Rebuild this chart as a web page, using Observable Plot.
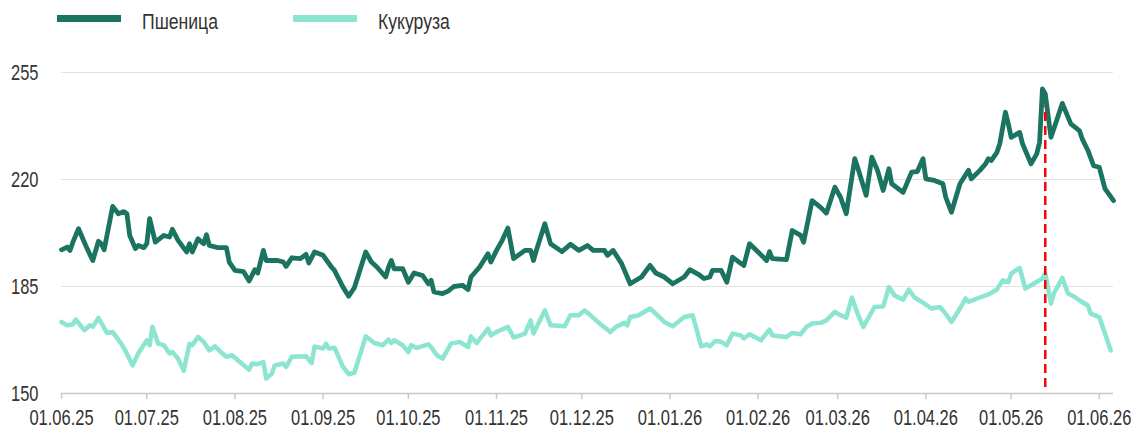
<!DOCTYPE html>
<html>
<head>
<meta charset="utf-8">
<script src="https://cdn.jsdelivr.net/npm/d3@7"></script>
<script src="https://cdn.jsdelivr.net/npm/@observablehq/plot@0.6"></script>
<style>
  html, body { margin: 0; padding: 0; background: #fff; }
  body { width: 1135px; height: 429px; overflow: hidden; font-family: "Liberation Sans", Arial, sans-serif; }
  #legend { position: relative; height: 40px; width: 1135px; }
  .sw { position: absolute; height: 7px; width: 64px; top: 15px; }
  .lt { position: absolute; top: 8px; font-size: 22px; color: #333; line-height: 28px; transform: scaleX(0.8); transform-origin: 0 0; white-space: nowrap; }
  #chart svg { display: block; }
</style>
</head>
<body>
<div id="legend"></div>
<div id="chart"></div>
<script>
const seriesNames = ["Пшеница", "Кукуруза"];
const seriesColors = ["#1b7461", "#8ce5d1"];

const wheatDates = ["2025-06-01","2025-06-03","2025-06-04","2025-06-05","2025-06-07","2025-06-08","2025-06-10","2025-06-12","2025-06-14","2025-06-15","2025-06-16","2025-06-19","2025-06-21","2025-06-23","2025-06-24","2025-06-25","2025-06-27","2025-06-28","2025-06-30","2025-07-01","2025-07-02","2025-07-04","2025-07-07","2025-07-09","2025-07-10","2025-07-12","2025-07-15","2025-07-16","2025-07-17","2025-07-19","2025-07-21","2025-07-22","2025-07-23","2025-07-26","2025-07-29","2025-07-30","2025-08-01","2025-08-04","2025-08-06","2025-08-08","2025-08-09","2025-08-11","2025-08-12","2025-08-14","2025-08-16","2025-08-18","2025-08-19","2025-08-21","2025-08-24","2025-08-26","2025-08-27","2025-08-29","2025-09-01","2025-09-04","2025-09-05","2025-09-08","2025-09-10","2025-09-12","2025-09-16","2025-09-18","2025-09-20","2025-09-23","2025-09-24","2025-09-25","2025-09-26","2025-09-29","2025-10-01","2025-10-03","2025-10-06","2025-10-08","2025-10-09","2025-10-10","2025-10-13","2025-10-15","2025-10-17","2025-10-20","2025-10-22","2025-10-23","2025-10-26","2025-10-29","2025-10-30","2025-11-01","2025-11-03","2025-11-05","2025-11-07","2025-11-11","2025-11-13","2025-11-14","2025-11-15","2025-11-18","2025-11-20","2025-11-24","2025-11-27","2025-11-30","2025-12-03","2025-12-05","2025-12-09","2025-12-10","2025-12-12","2025-12-15","2025-12-18","2025-12-22","2025-12-25","2025-12-27","2025-12-30","2026-01-02","2026-01-06","2026-01-08","2026-01-11","2026-01-13","2026-01-15","2026-01-16","2026-01-19","2026-01-21","2026-01-23","2026-01-26","2026-01-27","2026-01-29","2026-02-01","2026-02-04","2026-02-05","2026-02-06","2026-02-11","2026-02-13","2026-02-16","2026-02-17","2026-02-20","2026-02-23","2026-02-25","2026-02-28","2026-03-02","2026-03-04","2026-03-07","2026-03-08","2026-03-11","2026-03-13","2026-03-15","2026-03-17","2026-03-19","2026-03-20","2026-03-24","2026-03-27","2026-03-29","2026-03-31","2026-04-01","2026-04-04","2026-04-07","2026-04-08","2026-04-10","2026-04-13","2026-04-16","2026-04-17","2026-04-20","2026-04-22","2026-04-23","2026-04-24","2026-04-26","2026-04-27","2026-04-29","2026-04-30","2026-05-01","2026-05-04","2026-05-05","2026-05-08","2026-05-10","2026-05-11","2026-05-12","2026-05-13","2026-05-15","2026-05-17","2026-05-19","2026-05-22","2026-05-25","2026-05-26","2026-05-28","2026-05-30","2026-06-01","2026-06-03","2026-06-06"];
const wheatValues = [197.0,197.9,196.8,199.5,203.9,201.7,197.4,193.5,199.8,199.0,197.0,211.2,208.8,209.5,208.8,201.7,197.4,198.4,197.7,199.0,207.2,199.5,201.7,201.2,203.7,200.1,196.3,199.0,196.3,200.6,199.0,201.9,198.4,197.7,197.7,193.0,190.3,189.9,186.8,190.5,189.4,196.8,193.5,193.5,193.5,193.0,191.6,194.4,194.1,195.5,192.7,196.3,195.2,191.3,190.3,184.8,181.8,184.6,196.3,193.0,191.3,188.1,191.3,193.5,190.8,190.8,186.4,189.4,188.6,185.9,187.0,183.2,182.7,183.5,185.0,185.4,184.0,188.1,191.3,195.7,193.0,196.8,200.1,204.1,194.1,196.8,196.8,193.5,196.8,205.5,199.0,196.4,198.8,196.8,198.4,196.8,196.8,195.2,196.8,192.5,185.9,188.1,191.9,189.4,188.1,185.9,188.1,190.5,189.0,187.6,188.1,190.3,190.3,186.4,194.6,192.5,191.9,199.0,196.3,193.5,196.4,194.1,193.8,203.3,201.7,199.5,213.1,210.9,209.0,217.5,214.2,208.8,226.8,224.0,214.8,227.3,223.0,216.4,223.5,218.6,215.8,222.4,222.6,226.8,220.2,219.7,218.6,214.2,209.3,218.6,223.0,220.2,223.0,225.1,226.8,226.2,228.9,231.7,242.0,238.2,233.8,235.4,231.7,225.1,228.4,232.2,249.6,248.0,233.8,239.3,244.9,238.2,236.0,233.3,229.5,224.5,224.0,217.0,213.1];

const cornDates = ["2025-06-01","2025-06-03","2025-06-05","2025-06-06","2025-06-09","2025-06-11","2025-06-12","2025-06-14","2025-06-17","2025-06-19","2025-06-22","2025-06-24","2025-06-26","2025-06-28","2025-07-01","2025-07-02","2025-07-03","2025-07-05","2025-07-07","2025-07-09","2025-07-10","2025-07-12","2025-07-14","2025-07-16","2025-07-17","2025-07-19","2025-07-21","2025-07-23","2025-07-25","2025-07-27","2025-07-29","2025-07-31","2025-08-02","2025-08-06","2025-08-07","2025-08-09","2025-08-11","2025-08-12","2025-08-14","2025-08-15","2025-08-18","2025-08-19","2025-08-21","2025-08-26","2025-08-28","2025-08-29","2025-09-01","2025-09-02","2025-09-03","2025-09-05","2025-09-08","2025-09-10","2025-09-12","2025-09-16","2025-09-19","2025-09-22","2025-09-24","2025-09-25","2025-09-26","2025-09-29","2025-10-01","2025-10-02","2025-10-04","2025-10-08","2025-10-09","2025-10-11","2025-10-13","2025-10-16","2025-10-19","2025-10-22","2025-10-23","2025-10-25","2025-10-29","2025-10-30","2025-11-01","2025-11-05","2025-11-07","2025-11-11","2025-11-13","2025-11-14","2025-11-18","2025-11-20","2025-11-25","2025-11-27","2025-11-30","2025-12-02","2025-12-04","2025-12-08","2025-12-10","2025-12-11","2025-12-13","2025-12-16","2025-12-17","2025-12-18","2025-12-21","2025-12-25","2025-12-27","2025-12-30","2026-01-02","2026-01-06","2026-01-09","2026-01-12","2026-01-14","2026-01-15","2026-01-17","2026-01-19","2026-01-21","2026-01-23","2026-01-26","2026-01-27","2026-01-29","2026-02-02","2026-02-05","2026-02-06","2026-02-11","2026-02-13","2026-02-16","2026-02-18","2026-02-20","2026-02-23","2026-02-25","2026-02-28","2026-03-02","2026-03-04","2026-03-06","2026-03-08","2026-03-10","2026-03-14","2026-03-17","2026-03-19","2026-03-21","2026-03-24","2026-03-26","2026-03-28","2026-03-31","2026-04-03","2026-04-06","2026-04-08","2026-04-10","2026-04-13","2026-04-15","2026-04-16","2026-04-20","2026-04-23","2026-04-26","2026-04-28","2026-04-30","2026-05-01","2026-05-04","2026-05-06","2026-05-08","2026-05-12","2026-05-13","2026-05-15","2026-05-16","2026-05-19","2026-05-21","2026-05-23","2026-05-25","2026-05-28","2026-05-29","2026-06-01","2026-06-03","2026-06-05"];
const cornValues = [173.4,172.3,172.6,174.2,170.7,172.3,171.8,174.7,169.8,170.1,166.3,163.1,159.2,163.1,167.4,165.8,171.8,166.3,165.8,163.1,163.6,161.4,157.4,166.3,165.8,168.5,166.9,164.1,165.4,163.6,162.0,162.5,160.9,157.8,159.8,159.6,160.3,154.9,156.5,159.2,159.8,158.7,162.0,162.2,160.0,165.4,164.7,166.3,164.7,165.0,158.7,156.3,156.8,168.7,166.5,165.8,167.6,166.5,167.4,165.8,163.6,165.8,164.9,166.1,165.2,162.5,161.4,166.3,166.9,165.2,168.7,166.5,171.2,169.0,170.1,171.8,168.3,169.6,173.9,169.6,177.2,172.3,172.0,175.6,175.6,177.2,175.6,172.3,170.9,170.1,171.8,173.1,172.3,175.0,175.6,177.8,176.1,173.4,172.0,175.0,175.6,165.4,166.1,165.4,167.2,166.9,165.8,169.6,169.0,168.0,169.4,167.4,170.9,169.0,168.5,169.8,169.4,171.8,172.9,173.1,173.9,176.7,175.6,174.8,181.4,176.1,171.8,178.3,178.5,184.8,182.1,180.7,184.0,181.4,179.7,177.8,178.3,176.1,173.4,177.8,181.1,180.0,181.4,182.4,184.0,187.0,186.4,189.2,191.1,184.3,185.4,187.6,189.4,179.4,182.7,187.8,182.7,181.8,180.5,178.8,176.1,175.0,169.6,164.1];

const xDomain = ["2025-06-01", "2026-06-06"];
const monthTicks = ["2025-06-01","2025-07-01","2025-08-01","2025-09-01","2025-10-01","2025-11-01","2025-12-01","2026-01-01","2026-02-01","2026-03-01","2026-04-01","2026-05-01","2026-06-01"];
const yTicks = [150, 185, 220, 255];
const markerDate = "2026-05-13";
const markerRange = [152, 244];

const parse = s => new Date(s + "T00:00:00Z");
const wheat = wheatDates.map((d, i) => ({date: parse(d), value: wheatValues[i]}));
const corn = cornDates.map((d, i) => ({date: parse(d), value: cornValues[i]}));

// Legend
const legend = document.getElementById("legend");
const legendLeft = [57, 293];
seriesNames.forEach((n, i) => {
  const sw = document.createElement("div");
  sw.className = "sw";
  sw.style.left = legendLeft[i] + "px";
  sw.style.background = seriesColors[i];
  legend.appendChild(sw);
  const t = document.createElement("div");
  t.className = "lt";
  t.style.left = (legendLeft[i] + 85) + "px";
  t.textContent = n;
  legend.appendChild(t);
});

const fmt = d3.utcFormat("%d.%m.%y");

const chart = Plot.plot({
  width: 1135,
  height: 389,
  marginTop: 32,
  marginBottom: 36,
  marginLeft: 61,
  marginRight: 22,
  style: {fontFamily: '"Liberation Sans", Arial, sans-serif', fontSize: "22px", color: "#333", background: "#fff"},
  x: {type: "utc", domain: xDomain.map(parse)},
  y: {domain: [150, 255]},
  marks: [
    Plot.ruleY(yTicks.slice(1), {stroke: "#e3e3e3", strokeWidth: 1.2}),
    Plot.ruleY([150], {stroke: "#c8c8c8", strokeWidth: 1.5}),
    Plot.axisY({ticks: yTicks, tickSize: 0, tickPadding: 23, tickFormat: d => String(d), fill: "#333", label: null}),
    Plot.axisX({ticks: monthTicks.map(parse), tickFormat: fmt, tickSize: 6, tickPadding: 10, stroke: "#c8c8c8", fill: "#333", strokeWidth: 1.5, label: null}),
    Plot.line(corn, {x: "date", y: "value", stroke: seriesColors[1], strokeWidth: 4.5, strokeLinejoin: "round", strokeLinecap: "round"}),
    Plot.line(wheat, {x: "date", y: "value", stroke: seriesColors[0], strokeWidth: 4.8, strokeLinejoin: "round", strokeLinecap: "round"}),
    Plot.ruleX([parse(markerDate)], {y1: markerRange[0], y2: markerRange[1], stroke: "#ff0000", strokeWidth: 2.5, strokeDasharray: "9,5"})
  ]
});
document.getElementById("chart").appendChild(chart);

// condense tick label glyphs horizontally (narrow face look)
chart.querySelectorAll("text").forEach(t => {
  const x = parseFloat(t.getAttribute("x") || "0") || 0;
  const tr = t.getAttribute("transform") || "";
  t.removeAttribute("x");
  t.setAttribute("transform", `${tr} translate(${x},0) scale(0.75,1)`);
});
</script>
</body>
</html>
